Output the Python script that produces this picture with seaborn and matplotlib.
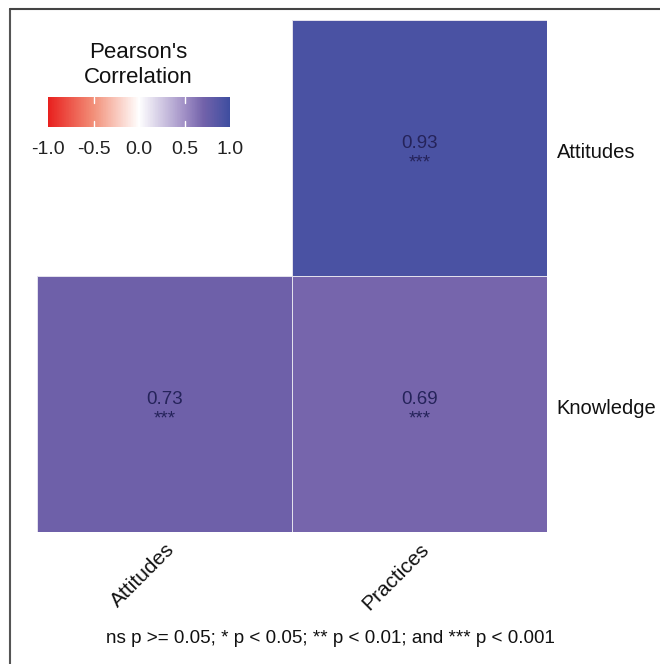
import numpy as np
import pandas as pd
import matplotlib
matplotlib.use("Agg")
import matplotlib.pyplot as plt
import matplotlib.transforms as mtransforms
from matplotlib.colors import LinearSegmentedColormap
from matplotlib.lines import Line2D
import seaborn as sns

# ── Data ───────────────────────────────────────────────────────────────────────
ROW_LABELS = ["Attitudes", "Knowledge"]
COL_LABELS = ["Attitudes", "Practices"]
R_ATTITUDES = [np.nan, 0.93]
R_KNOWLEDGE = [0.73, 0.69]
SIG_ATTITUDES = ["", "***"]
SIG_KNOWLEDGE = ["***", "***"]
CBAR_TICKS = [-1.0, -0.5, 0.0, 0.5, 1.0]
CAPTION = "ns p >= 0.05; * p < 0.05; ** p < 0.01; and *** p < 0.001"

# ── Setup ──────────────────────────────────────────────────────────────────────
sns.set_theme(style="white")
plt.rcParams["font.family"] = ["Liberation Sans", "DejaVu Sans"]

corr = pd.DataFrame([R_ATTITUDES, R_KNOWLEDGE], index=ROW_LABELS, columns=COL_LABELS)
sig = pd.DataFrame([SIG_ATTITUDES, SIG_KNOWLEDGE], index=ROW_LABELS, columns=COL_LABELS)
annot = corr.map(lambda v: "" if np.isnan(v) else f"{v:.2f}") + "\n" + sig

cmap = LinearSegmentedColormap.from_list("pearson", [
    (0.00, "#E8201E"),
    (0.25, "#F29079"),
    (0.50, "#FFFFFF"),
    (0.75, "#A190C6"),
    (0.855, "#7262AA"),
    (0.965, "#4B53A3"),
    (1.00, "#3E4D9F"),
])

fig = plt.figure(figsize=(6.6, 6.64), dpi=100)
ax = fig.add_axes([0.056, 0.199, 0.773, 0.771])
cax = fig.add_axes([0.0727, 0.8087, 0.276, 0.045])

sns.heatmap(corr, mask=corr.isna(), cmap=cmap, vmin=-1, vmax=1,
            annot=annot, fmt="", linewidths=0.7, linecolor="#E2E0EC",
            annot_kws={"fontsize": 13.5, "color": "#25235A", "linespacing": 1.2},
            cbar_ax=cax, cbar_kws={"orientation": "horizontal", "ticks": CBAR_TICKS},
            ax=ax)
for s in ax.spines.values():
    s.set_visible(False)

# no outline around the masked (empty) cell
mesh = ax.collections[0]
edge = [(0, 0, 0, 0) if m else "#E2E0EC" for m in corr.isna().values.ravel()]
mesh.set_edgecolor(edge)

for t in ax.texts:
    x, y = t.get_position()
    t.set_position((x, y + 0.02))

# axes styling
ax.yaxis.tick_right()
ax.set_yticklabels(ROW_LABELS, rotation=0, fontsize=14.5, color="#111111", va="center")
ax.set_xticklabels(COL_LABELS, rotation=45, ha="right", va="top",
                   rotation_mode="anchor", fontsize=15, color="#111111")
ax.tick_params(axis="y", length=0, pad=7)
ax.tick_params(axis="x", length=0, pad=6)
ax.set_xlabel(""); ax.set_ylabel("")
shift = mtransforms.ScaledTranslation(0, -5 / 100, fig.dpi_scale_trans)
for lbl in ax.get_yticklabels():
    lbl.set_transform(lbl.get_transform() + shift)

# colorbar styling
cbar = mesh.colorbar
cbar.outline.set_visible(False)
cax.tick_params(length=0, labelsize=14, pad=10, colors="#222222")
cax.set_xticklabels([f"{t:.1f}" for t in CBAR_TICKS])
for t in CBAR_TICKS[1:-1]:
    cax.plot([t, t], [0, 0.2], color="white", lw=1, transform=cax.get_xaxis_transform())
    cax.plot([t, t], [0.8, 1], color="white", lw=1, transform=cax.get_xaxis_transform())
fig.text(0.209, 0.902, "Pearson's\nCorrelation", ha="center", va="center",
         fontsize=16, linespacing=1.2, color="#111111")

# caption and frame
fig.text(0.5, 0.039, CAPTION, ha="center", va="center", fontsize=13.6, color="#111111")
fig.add_artist(Line2D([0.0145, 0.0145], [0, 0.986], color="#555555", lw=1.5))
fig.add_artist(Line2D([0.0145, 1], [0.986, 0.986], color="#444444", lw=1.5))

fig.savefig("out.png", dpi=100, facecolor="white")
